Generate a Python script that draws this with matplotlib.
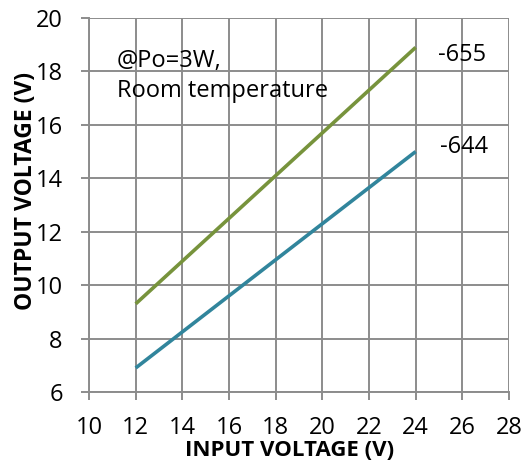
import matplotlib
matplotlib.use('Agg')
import matplotlib.pyplot as plt

plt.rcParams['font.family'] = ['Open Sans', 'DejaVu Sans']

# 数据
vin = [12, 14, 16, 18, 20, 22, 24]
vout_655 = [9.3, 10.9, 12.5, 14.1, 15.7, 17.3, 18.9]
vout_644 = [6.9, 8.25, 9.6, 10.95, 12.3, 13.65, 15.0]
x_ticks = [10, 12, 14, 16, 18, 20, 22, 24, 26, 28]
y_ticks = [6, 8, 10, 12, 14, 16, 18, 20]

grid_c = '#8c8c8c'

fig = plt.figure(figsize=(5.28, 4.62), dpi=100)
ax = fig.add_axes([0.1686, 0.1515, 0.7954, 0.8095])

ax.plot(vin, vout_655, color='#77933C', lw=2.6, solid_capstyle='butt', zorder=3)
ax.plot(vin, vout_644, color='#31859C', lw=2.6, solid_capstyle='butt', zorder=3)

ax.set_xlim(10, 28)
ax.set_ylim(6, 20)
ax.set_xticks(x_ticks)
ax.set_yticks(y_ticks)
ax.grid(True, color=grid_c, lw=1.4)
ax.set_axisbelow(True)

for side in ['top', 'right']:
    ax.spines[side].set_visible(False)
for side in ['left', 'bottom']:
    ax.spines[side].set_color(grid_c)
    ax.spines[side].set_linewidth(1.4)

ax.tick_params(direction='out', length=6, width=1.4, color=grid_c,
               labelsize=17, pad=13)
ax.tick_params(axis='x', pad=11)

ax.set_xlabel('INPUT VOLTAGE (V)', fontsize=16, fontweight='bold')
ax.set_ylabel('OUTPUT VOLTAGE (V)', fontsize=16.5, fontweight='bold')
ax.xaxis.set_label_coords(0.477, -0.128)
ax.yaxis.set_label_coords(-0.122, 0.537)

ax.text(24.96, 18.62, '-655', fontsize=17, va='center', ha='left')
ax.text(25.04, 15.18, '-644', fontsize=17, va='center', ha='left')
ax.text(11.2, 17.83, '@Po=3W,\nRoom temperature', fontsize=17, va='center',
        ha='left', linespacing=1.35)

fig.savefig('out.png', dpi=100)
